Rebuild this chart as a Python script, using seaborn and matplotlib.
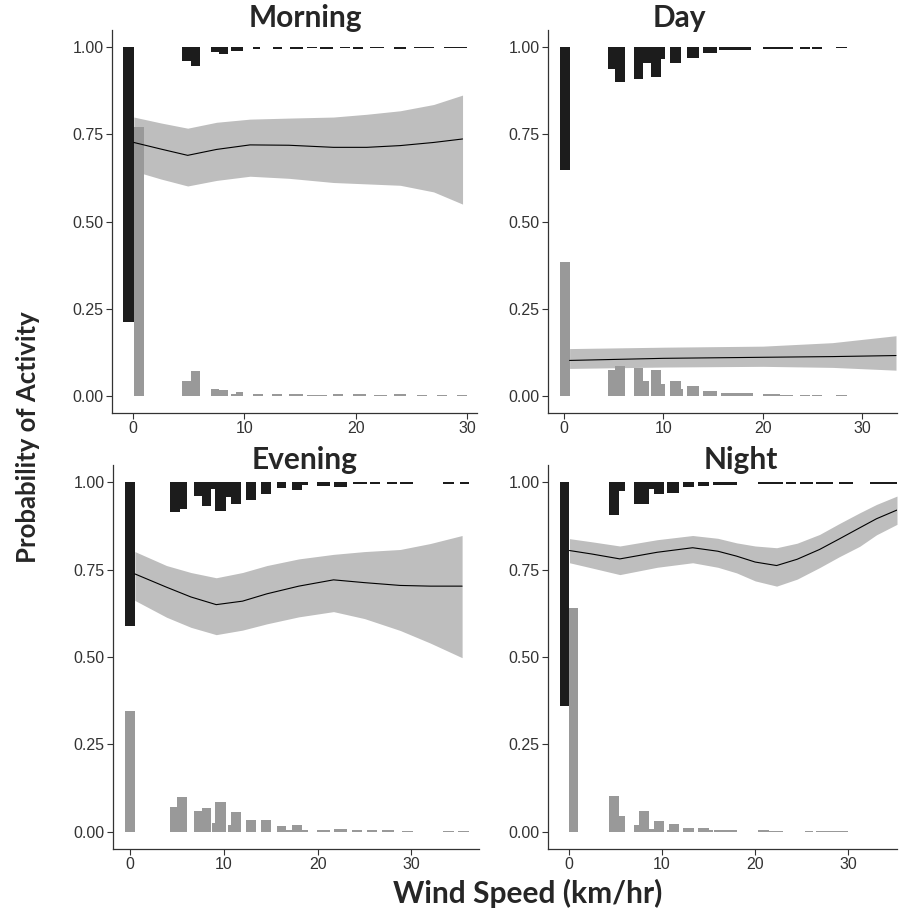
import numpy as np
import pandas as pd
import matplotlib
matplotlib.use("Agg")
import matplotlib.pyplot as plt
import seaborn as sns

# bars: (left, right, height) in km/hr; active bars hang down from 1, inactive grow up from 0
morning_act = [(-0.9, 0.06, 0.79), (4.4, 5.2, 0.04), (5.2, 6.0, 0.053), (7.0, 7.7, 0.014),
               (7.7, 8.5, 0.019), (8.8, 9.9, 0.01), (10.8, 11.4, 0.006), (12.6, 13.4, 0.006),
               (14.1, 15.3, 0.005), (15.6, 16.5, 0.003), (16.8, 18.0, 0.005), (18.6, 19.5, 0.003),
               (19.8, 20.7, 0.005), (21.3, 22.5, 0.003), (23.4, 24.5, 0.005), (25.2, 27.0, 0.003),
               (27.9, 30.0, 0.003)]
morning_inact = [(0.06, 0.96, 0.77), (4.4, 5.2, 0.042), (5.2, 6.0, 0.071), (7.0, 7.7, 0.019),
                 (7.7, 8.5, 0.017), (8.8, 9.2, 0.004), (9.2, 9.9, 0.01), (10.8, 11.7, 0.005),
                 (12.5, 13.4, 0.005), (14.0, 15.3, 0.004), (15.6, 17.4, 0.003), (18.0, 18.9, 0.004),
                 (19.8, 20.9, 0.005), (21.6, 22.8, 0.003), (23.4, 24.5, 0.004), (25.5, 26.4, 0.002),
                 (27.3, 28.2, 0.003), (29.1, 30.0, 0.002)]

day_act = [(-0.43, 0.64, 0.353), (4.4, 5.15, 0.063), (5.15, 6.1, 0.099), (7.0, 8.0, 0.091),
           (8.0, 8.8, 0.046), (8.8, 9.8, 0.084), (9.8, 10.2, 0.034), (10.7, 11.8, 0.046),
           (12.4, 13.6, 0.029), (14.0, 15.4, 0.017), (15.6, 18.8, 0.007), (20.0, 23.0, 0.004),
           (23.7, 24.7, 0.004), (25.0, 26.0, 0.004), (27.4, 28.5, 0.003)]
day_inact = [(-0.43, 0.64, 0.384), (4.4, 5.15, 0.073), (5.15, 6.1, 0.086), (7.0, 8.0, 0.078),
             (8.0, 8.6, 0.043), (8.8, 9.8, 0.073), (9.8, 10.2, 0.034), (10.7, 11.8, 0.043),
             (11.8, 12.0, 0.02), (12.4, 13.6, 0.027), (14.0, 15.4, 0.012), (15.8, 19.0, 0.008),
             (20.0, 21.7, 0.004), (21.7, 23.0, 0.003), (23.7, 24.7, 0.003), (25.0, 26.0, 0.002),
             (27.4, 28.5, 0.002)]

evening_act = [(-0.53, 0.53, 0.412), (4.27, 5.34, 0.085), (5.34, 6.1, 0.075), (6.87, 7.65, 0.039),
               (7.65, 8.65, 0.068), (8.65, 9.1, 0.02), (9.1, 10.2, 0.083), (10.2, 10.8, 0.042),
               (10.8, 11.8, 0.061), (12.35, 13.45, 0.049), (13.95, 15.05, 0.032), (15.65, 16.65, 0.015),
               (17.25, 18.3, 0.021), (18.3, 19.0, 0.007), (19.9, 21.3, 0.01), (21.7, 23.1, 0.013),
               (23.8, 25.3, 0.004), (25.6, 26.7, 0.004), (27.4, 28.5, 0.004), (28.8, 30.2, 0.004),
               (33.4, 34.5, 0.004), (35.2, 36.1, 0.004)]
evening_inact = [(-0.53, 0.53, 0.344), (4.27, 5.05, 0.07), (5.05, 6.1, 0.10), (6.87, 7.65, 0.06),
                 (7.65, 8.65, 0.068), (8.75, 9.07, 0.024), (9.07, 10.2, 0.086), (10.45, 10.78, 0.019),
                 (10.78, 11.8, 0.055), (12.35, 13.45, 0.034), (13.95, 15.05, 0.034), (15.65, 16.65, 0.017),
                 (16.65, 17.25, 0.003), (17.25, 18.3, 0.019), (18.3, 19.0, 0.003), (19.9, 21.3, 0.003),
                 (21.7, 23.1, 0.008), (23.7, 24.7, 0.003), (25.3, 26.3, 0.003), (26.9, 28.1, 0.003),
                 (29.0, 30.2, 0.002), (33.4, 34.5, 0.002), (35.0, 36.1, 0.002)]

night_act = [(-0.96, 0.1, 0.641), (4.32, 5.36, 0.092), (5.36, 6.0, 0.025), (6.97, 8.57, 0.061),
             (8.57, 9.15, 0.02), (9.15, 10.18, 0.032), (10.6, 11.8, 0.03), (12.25, 13.4, 0.014),
             (13.86, 15.0, 0.01), (15.47, 18.1, 0.006), (20.3, 23.0, 0.005), (23.3, 24.4, 0.005),
             (24.8, 26.2, 0.005), (26.5, 28.3, 0.005), (29.0, 30.5, 0.003), (32.3, 35.5, 0.003)]
night_inact = [(0.1, 1.0, 0.641), (4.32, 5.36, 0.103), (5.36, 6.0, 0.044), (6.97, 7.5, 0.018),
               (7.5, 8.57, 0.058), (8.57, 9.15, 0.008), (9.15, 10.18, 0.031), (10.6, 10.75, 0.005),
               (10.75, 11.8, 0.022), (12.25, 13.4, 0.01), (13.86, 15.0, 0.01), (15.0, 15.47, 0.003),
               (15.6, 18.1, 0.003), (20.3, 21.5, 0.003), (21.5, 23.0, 0.002), (25.3, 26.2, 0.002),
               (26.5, 30.0, 0.002)]

# fitted logistic curve with confidence band
morning_x = [0.06, 2.5, 4.9, 7.5, 10.5, 14, 18, 21, 24, 27, 29.6]
morning_fit = [0.727, 0.708, 0.690, 0.707, 0.720, 0.719, 0.713, 0.713, 0.718, 0.727, 0.737]
morning_lo = [0.645, 0.622, 0.602, 0.618, 0.630, 0.624, 0.612, 0.608, 0.604, 0.585, 0.55]
morning_hi = [0.800, 0.783, 0.768, 0.785, 0.794, 0.797, 0.800, 0.808, 0.818, 0.836, 0.863]

day_x = [0.57, 10, 20, 27, 33.4]
day_fit = [0.101, 0.107, 0.110, 0.112, 0.115]
day_lo = [0.078, 0.082, 0.084, 0.081, 0.073]
day_hi = [0.135, 0.139, 0.142, 0.152, 0.172]

evening_x = [0.53, 3.9, 6.5, 9.2, 12, 14.6, 18, 21.7, 25, 28.8, 32, 35.4]
evening_fit = [0.738, 0.700, 0.672, 0.650, 0.660, 0.681, 0.703, 0.721, 0.713, 0.705, 0.703, 0.703]
evening_lo = [0.662, 0.614, 0.585, 0.564, 0.577, 0.595, 0.615, 0.630, 0.610, 0.576, 0.540, 0.498]
evening_hi = [0.802, 0.762, 0.742, 0.727, 0.742, 0.762, 0.781, 0.794, 0.802, 0.808, 0.825, 0.848]

night_x = [0.1, 2.5, 5.5, 9.5, 13.3, 16, 18, 20, 22.3, 24.5, 26.9, 29, 31.2, 33, 35.2]
night_fit = [0.805, 0.795, 0.781, 0.800, 0.813, 0.803, 0.789, 0.772, 0.762, 0.780, 0.808, 0.838, 0.870, 0.896, 0.921]
night_lo = [0.770, 0.755, 0.736, 0.757, 0.770, 0.757, 0.741, 0.718, 0.703, 0.723, 0.756, 0.787, 0.817, 0.850, 0.880]
night_hi = [0.839, 0.830, 0.818, 0.836, 0.848, 0.840, 0.827, 0.818, 0.813, 0.826, 0.851, 0.882, 0.913, 0.937, 0.961]

titles = ["Morning", "Day", "Evening", "Night"]
yticks = [0, 0.25, 0.5, 0.75, 1.0]
ytick_labels = ["0.00", "0.25", "0.50", "0.75", "1.00"]

panels = [
    (morning_act, morning_inact, morning_x, morning_fit, morning_lo, morning_hi, (-1.9, 30.9)),
    (day_act, day_inact, day_x, day_fit, day_lo, day_hi, (-1.6, 33.5)),
    (evening_act, evening_inact, evening_x, evening_fit, evening_lo, evening_hi, (-1.8, 37.2)),
    (night_act, night_inact, night_x, night_fit, night_lo, night_hi, (-2.2, 35.2)),
]

sns.set_theme(style="white")
plt.rcParams["font.family"] = ["Liberation Sans", "DejaVu Sans"]

W, H = 902, 914
fig = plt.figure(figsize=(W / 100, H / 100), dpi=100)
boxes = [(112, 30, 477, 413), (548, 30, 897, 413), (113, 465, 479, 849), (548, 465, 897, 849)]
title_pos = [(305, 18), (679, 18), (305, 460), (741, 460)]

for i, (act, inact, x, fit, lo, hi, xlim) in enumerate(panels):
    l, t, r, b = boxes[i]
    ax = fig.add_axes([l / W, 1 - b / H, (r - l) / W, (b - t) / H])
    ax.fill_between(x, lo, hi, color="#bebebe", lw=0, zorder=1)
    a = pd.DataFrame(act, columns=["left", "right", "h"])
    n = pd.DataFrame(inact, columns=["left", "right", "h"])
    ax.bar(a["left"], -a["h"], width=a["right"] - a["left"], bottom=1.0,
           align="edge", color="#1c1c1c", lw=0, zorder=2)
    ax.bar(n["left"], n["h"], width=n["right"] - n["left"], bottom=0.0,
           align="edge", color="#999999", lw=0, zorder=2)
    df = pd.DataFrame({"x": x, "fit": fit})
    sns.lineplot(data=df, x="x", y="fit", ax=ax, color="black", lw=0.8, zorder=3)
    ax.set_xlim(*xlim)
    ax.set_ylim(-0.05, 1.05)
    ax.set_xticks([0, 10, 20, 30])
    ax.set_yticks(yticks)
    ax.set_yticklabels(ytick_labels)
    ax.set_xlabel("")
    ax.set_ylabel("")
    ax.tick_params(axis="both", which="both", length=4, width=0.8, color="#333333",
                   labelsize=11.5, labelcolor="#333333", pad=2, left=True, bottom=True)
    sns.despine(ax=ax)
    for s in ["left", "bottom"]:
        ax.spines[s].set_color("#333333")
        ax.spines[s].set_linewidth(0.9)
    tx, ty = title_pos[i]
    fig.text(tx / W, 1 - ty / H, titles[i], ha="center", va="center",
             fontsize=21.5, fontweight="bold", family=["Lato", "DejaVu Sans"])

fig.text(28 / W, 1 - 437 / H, "Probability of Activity", rotation=90, ha="center", va="center",
         fontsize=18.5, fontweight="bold", family=["Lato", "DejaVu Sans"])
fig.text(528 / W, 1 - 893 / H, "Wind Speed (km/hr)", ha="center", va="center",
         fontsize=21.5, fontweight="bold", family=["Lato", "DejaVu Sans"])

fig.savefig("out.png", dpi=100)
